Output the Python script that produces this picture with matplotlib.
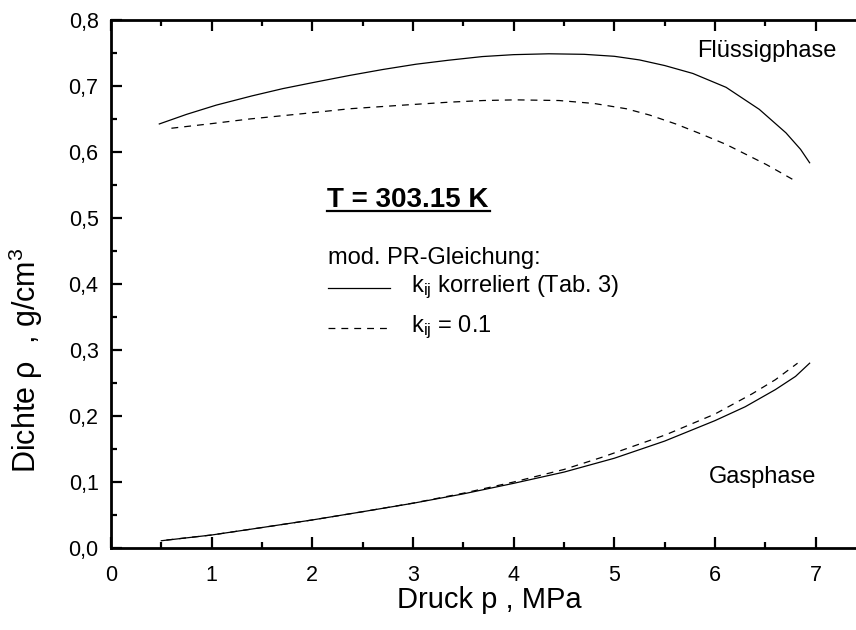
import numpy as np
import matplotlib
matplotlib.use("Agg")
import matplotlib.pyplot as plt

plt.rcParams['font.family'] = ['Liberation Sans', 'DejaVu Sans']
plt.rcParams['mathtext.fontset'] = 'custom'
plt.rcParams['mathtext.rm'] = 'Liberation Sans'
plt.rcParams['mathtext.it'] = 'Liberation Sans'

# Fluessigphase, k_ij korreliert (solid)
p_liq_kor = [0.48, 0.75, 1.045, 1.4, 1.706, 2.0, 2.37, 2.7, 3.03, 3.35, 3.69, 4.0, 4.35, 4.7, 5.0, 5.25,
             5.5, 5.78, 6.11, 6.44, 6.705, 6.85, 6.94]
d_liq_kor = [0.6425, 0.657, 0.671, 0.685, 0.696, 0.705, 0.716, 0.725, 0.733, 0.739, 0.7446, 0.7475, 0.7488,
             0.748, 0.745, 0.7395, 0.731, 0.719, 0.698, 0.6646, 0.629, 0.604, 0.5837]

# Fluessigphase, k_ij = 0.1 (dashed)
p_liq_01 = [0.6, 1.0, 1.375, 1.9, 2.37, 2.9, 3.36, 3.7, 4.02, 4.45, 4.8, 5.12, 5.35, 5.61, 5.85, 6.11,
            6.3, 6.51, 6.65, 6.80]
d_liq_01 = [0.636, 0.643, 0.650, 0.658, 0.6655, 0.671, 0.6755, 0.678, 0.679, 0.678, 0.6735, 0.6655,
            0.656, 0.6425, 0.628, 0.6115, 0.597, 0.581, 0.569, 0.556]

# Gasphase, k_ij korreliert (solid)
p_gas_kor = [0.5, 1.0, 1.5, 2.0, 2.5, 3.0, 3.5, 4.0, 4.5, 5.0, 5.5, 6.0, 6.3, 6.6, 6.8, 6.94]
d_gas_kor = [0.011, 0.0197, 0.031, 0.0425, 0.055, 0.0678, 0.082, 0.098, 0.115, 0.136, 0.162, 0.193,
             0.214, 0.240, 0.260, 0.280]

# Gasphase, k_ij = 0.1 (dashed)
p_gas_01 = [0.55, 1.0, 1.5, 2.0, 2.5, 3.0, 3.5, 4.0, 4.5, 4.88, 5.51, 6.0, 6.37, 6.6, 6.82]
d_gas_01 = [0.012, 0.0197, 0.031, 0.0425, 0.055, 0.068, 0.083, 0.100, 0.119, 0.1376, 0.1715, 0.203,
            0.2337, 0.255, 0.280]

xticks = [0, 1, 2, 3, 4, 5, 6, 7]
yticks = [0.0, 0.1, 0.2, 0.3, 0.4, 0.5, 0.6, 0.7, 0.8]
ytick_labels = ['0,0', '0,1', '0,2', '0,3', '0,4', '0,5', '0,6', '0,7', '0,8']

fig = plt.figure(figsize=(8.56, 6.3), dpi=100)
ax = fig.add_axes([111/856, 82/630, 755/856, 528/630])

lw = 0.9
dash = (5.5, 4.8)
ax.plot(p_liq_kor, d_liq_kor, '-', color='black', lw=lw)
ax.plot(p_liq_01, d_liq_01, '--', color='black', lw=lw, dashes=dash)
ax.plot(p_gas_kor, d_gas_kor, '-', color='black', lw=lw)
ax.plot(p_gas_01, d_gas_01, '--', color='black', lw=lw, dashes=dash)

# legend drawn by hand as in the original
ax.plot([2.16, 2.77], [0.3945, 0.3945], '-', color='black', lw=lw)
ax.plot([2.16, 2.77], [0.334, 0.334], '--', color='black', lw=lw, dashes=dash)
ax.text(2.16, 0.44, 'mod. PR-Gleichung:', fontsize=17, va='center')
ax.text(2.98, 0.3945, r'k$_{\mathrm{ij}}$ korreliert (Tab. 3)', fontsize=17, va='center')
ax.text(2.98, 0.334, r'k$_{\mathrm{ij}}$ = 0.1', fontsize=17, va='center')

ax.text(2.15, 0.516, 'T = 303.15 K', fontsize=20, fontweight='bold', va='baseline')
ax.plot([2.15, 3.76], [0.5105, 0.5105], '-', color='black', lw=1.6)

ax.text(5.82, 0.753, 'Flüssigphase', fontsize=17, va='center')
ax.text(5.94, 0.108, 'Gasphase', fontsize=17, va='center')

ax.set_xlim(0, 7.5)
ax.set_ylim(0, 0.8)
ax.set_xticks(xticks)
ax.set_xticks(np.arange(0.5, 7.5, 1.0), minor=True)
ax.set_yticks(yticks)
ax.set_yticklabels(ytick_labels)
ax.set_yticks(np.arange(0.05, 0.8, 0.1), minor=True)

ax.tick_params(which='both', direction='in', top=True, right=False, width=1.6, labelsize=15.5)
ax.tick_params(which='major', length=8)
ax.tick_params(which='minor', length=4)
ax.tick_params(axis='x', pad=12)
ax.tick_params(axis='y', pad=9)
for s in ['left', 'bottom', 'top']:
    ax.spines[s].set_linewidth(2)
ax.spines['right'].set_visible(False)

ax.set_xlabel('Druck p , MPa', fontsize=21)
ax.set_ylabel('Dichte ρ  , g/cm$^3$', fontsize=22)
ax.xaxis.set_label_coords((489 - 111) / 755, -0.072)
ax.yaxis.set_label_coords(-0.0874, 0.356)

fig.savefig('out.png', dpi=100)
